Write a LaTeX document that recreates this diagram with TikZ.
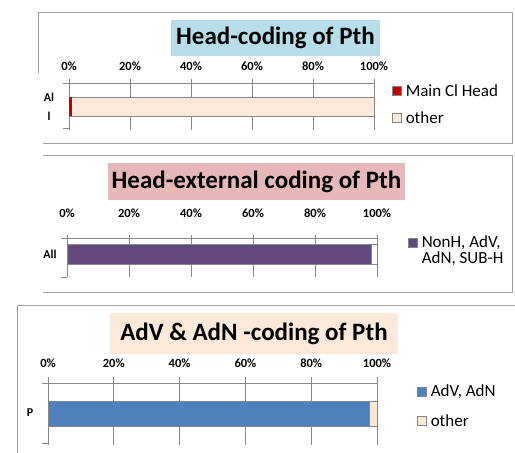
\documentclass[tikz,border=0pt]{standalone}
\usepackage{fontspec}
\setmainfont{Carlito}
\usepackage{tikz}
\usetikzlibrary{positioning}
\definecolor{titleblue}{RGB}{183,221,232}
\definecolor{titlepink}{RGB}{230,184,183}
\definecolor{titlepeach}{RGB}{253,233,217}
\definecolor{barred}{RGB}{192,0,0}
\definecolor{barpurple}{RGB}{96,74,123}
\definecolor{barblue}{RGB}{79,129,189}
\definecolor{framegray}{RGB}{160,160,160}
\definecolor{gridgray}{RGB}{134,134,134}

\begin{document}
\begin{tikzpicture}[x=1pt, y=-1pt,
  panel/.style={draw=framegray, line width=1pt},
  gridline/.style={draw=gridgray, line width=0.8pt},
  charttitle/.style={font=\bfseries\fontsize{25}{28}\selectfont, inner sep=0pt},
  pct/.style={font=\bfseries\fontsize{12.5}{13}\selectfont, inner sep=0pt},
  cat/.style={font=\bfseries\fontsize{12}{19}\selectfont, inner sep=0pt, align=center},
  legtext/.style={font=\fontsize{17}{16}\selectfont, anchor=west, inner sep=0pt, align=left},
  legkey/.style={draw=gridgray, line width=0.6pt, minimum size=8.5pt, inner sep=0pt},
  barpart/.style={draw=gridgray, line width=0.8pt}]

\useasboundingbox (0,0) rectangle (515,453);

% panel 1: head-coding
\draw[panel] (38,73) -- (38,12) -- (512,12) -- (512,143) -- (43,143);
\node (title1) [charttitle, fill=titleblue, minimum width=209pt, minimum height=36pt] at (275.5,38) {Head-coding of Pth};
\foreach \p [count=\i from 0] in {0,20,40,60,80,100} {
  \node[pct] at (69+61*\i,66) {\p\%};
  \draw[gridline] (69+61*\i,79) -- (69+61*\i,130);
}
\draw[gridline] (63,83) -- (374,83);
\draw[gridline] (63,128) -- (69,128);
\draw[barpart, fill=titlepeach] (69,97) rectangle (374,116);
\fill[barred] (69.4,97.4) rectangle (72,115.6);
\node (cat1) [cat] at (49,107) {Al\\l};
\node (key1a) [legkey, fill=barred] at (397,91) {};
\node (leg1a) [legtext, right=4pt of key1a] {Main Cl Head};
\node (key1b) [legkey, fill=titlepeach] at (397,118) {};
\node (leg1b) [legtext, right=4pt of key1b] {other};

% panel 2: head-external coding
\draw[panel] (43,155) -- (512,155) -- (512,292) -- (43,292);
\node (title2) [charttitle, fill=titlepink, minimum width=297pt, minimum height=37pt] at (256.5,181.5) {Head-external coding of Pth};
\foreach \p [count=\i from 0] in {0,20,40,60,80,100} {
  \node[pct] at (67+62*\i,213) {\p\%};
  \draw[gridline] (67+62*\i,235) -- (67+62*\i,277);
}
\draw[gridline] (61,238) -- (377,238);
\draw[gridline] (61,277) -- (67,277);
\draw[barpart, fill=white] (67,244) rectangle (377,264);
\draw[barpart, fill=barpurple] (67,244) rectangle (371,264);
\node (cat2) [cat] at (50,254) {All};
\node (key2a) [legkey, fill=barpurple] at (413,243) {};
\node (leg2a) [legtext, right=4pt of key2a, anchor=north west, yshift=8pt] {NonH, AdV,\\AdN, SUB-H};

% panel 3: AdV & AdN coding
\draw[panel] (17,453) -- (17,305) -- (515,305);
\node (title3) [charttitle, fill=titlepeach, minimum width=288pt, minimum height=41pt] at (254,333.5) {AdV \& AdN -coding of Pth};
\foreach \p [count=\i from 0] in {0,20,40,60,80,100} {
  \node[pct] at (48+65.8*\i,363) {\p\%};
  \draw[gridline] (48+65.8*\i,377) -- (48+65.8*\i,445);
}
\draw[gridline] (42,383) -- (377,383);
\draw[gridline] (42,443) -- (48,443);
\draw[barpart, fill=titlepeach] (48,401) rectangle (377,426);
\draw[barpart, fill=barblue] (48,401) rectangle (369,426);
\node (cat3) [cat] at (30,413) {P};
\node (key3a) [legkey, fill=barblue] at (422,392) {};
\node (leg3a) [legtext, right=4pt of key3a] {AdV, AdN};
\node (key3b) [legkey, fill=titlepeach] at (422,421) {};
\node (leg3b) [legtext, right=4pt of key3b] {other};
\end{tikzpicture}
\end{document}
